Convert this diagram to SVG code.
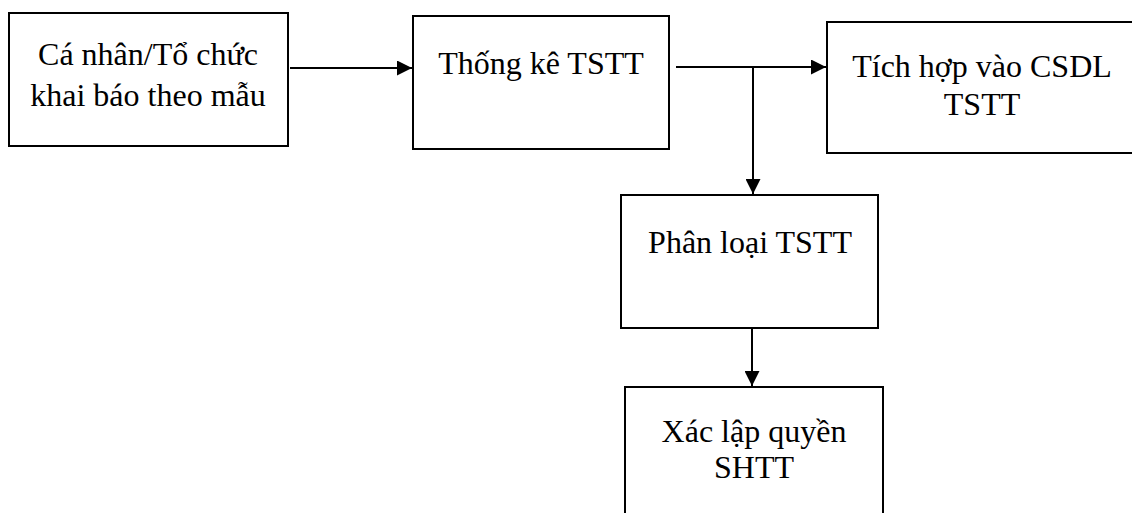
<svg xmlns="http://www.w3.org/2000/svg" width="1132" height="513" viewBox="0 0 1132 513">
<style>
.box{fill:#fff;stroke:#000;stroke-width:2}
.t{font-family:"Liberation Serif","Times New Roman",serif;font-size:32px;fill:#000;text-anchor:middle}
.c{stroke:#000;stroke-width:2;fill:none}
</style>
<defs>
<marker id="ah" markerWidth="15" markerHeight="15" refX="15" refY="7.5" orient="auto" markerUnits="userSpaceOnUse">
<path d="M0,0 L15,7.5 L0,15 Z" fill="#000"/>
</marker>
</defs>
<rect width="1132" height="513" fill="#fff"/>
<g id="n1">
<rect class="box" x="9" y="13" width="279" height="133"/>
<text class="t" x="148" y="65">Cá nhân/Tổ chức</text>
<text class="t" x="148" y="106">khai báo theo mẫu</text>
</g>
<g id="n2">
<rect class="box" x="413" y="16" width="256" height="133"/>
<text class="t" x="541" y="74">Thống kê TSTT</text>
</g>
<g id="n3">
<rect class="box" x="827" y="22" width="320" height="131"/>
<text class="t" x="982" y="77">Tích hợp vào CSDL</text>
<text class="t" x="982" y="115">TSTT</text>
</g>
<g id="n4">
<rect class="box" x="621" y="195" width="257" height="133"/>
<text class="t" x="750" y="253">Phân loại TSTT</text>
</g>
<g id="n5">
<rect class="box" x="625" y="387" width="258" height="140"/>
<text class="t" x="754" y="442">Xác lập quyền</text>
<text class="t" x="754" y="478">SHTT</text>
</g>
<g id="connectors">
<line class="c" x1="290" y1="68" x2="412" y2="68" marker-end="url(#ah)"/>
<line class="c" x1="676" y1="67" x2="826" y2="67" marker-end="url(#ah)"/>
<line class="c" x1="753" y1="67" x2="753" y2="194" marker-end="url(#ah)"/>
<line class="c" x1="752" y1="329" x2="752" y2="386" marker-end="url(#ah)"/>
</g>
</svg>
